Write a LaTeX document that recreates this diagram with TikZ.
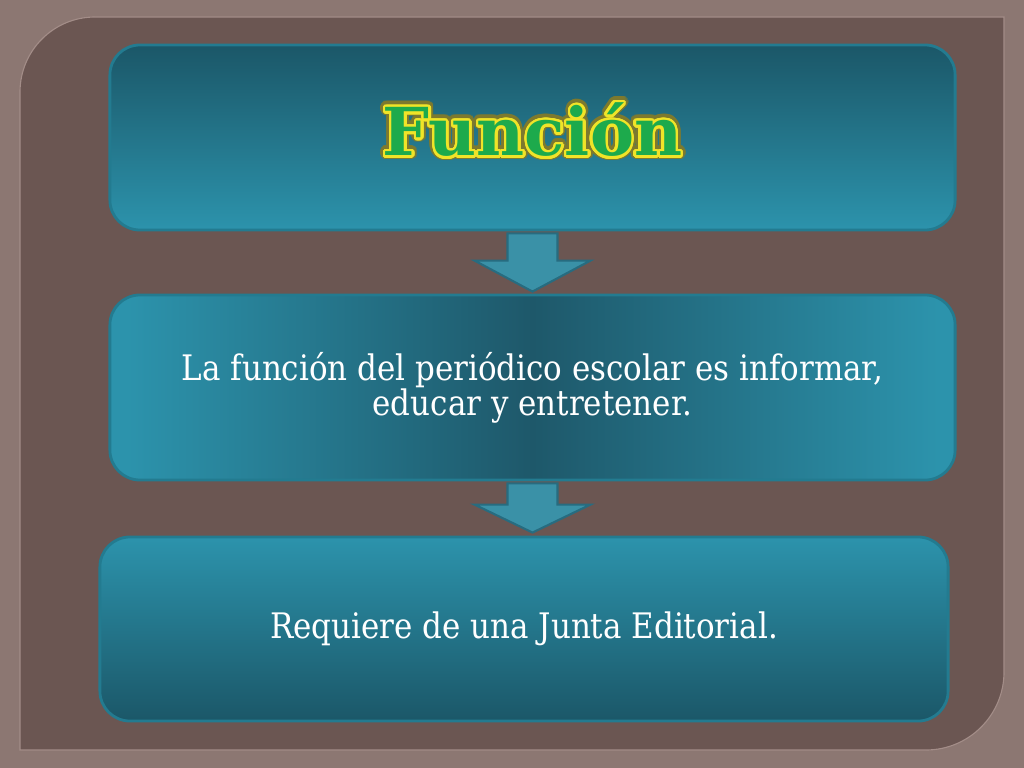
\documentclass[tikz,border=0pt]{standalone}
\usepackage{fontspec}
\usepackage{contour}
\usetikzlibrary{calc}

\newfontfamily\slab[FakeStretch=0.88]{DejaVu Serif}
\newfontfamily\slabhead{DejaVu Serif}

\definecolor{frameout}{HTML}{8C7772}
\definecolor{framein}{HTML}{6B5652}
\definecolor{frameedge}{HTML}{A38D88}
\definecolor{tealdark}{HTML}{1B5768}
\definecolor{tealdeep}{HTML}{1E586A}
\definecolor{teallight}{HTML}{2C93AC}
\definecolor{tealedge}{HTML}{237B90}
\definecolor{arrowfill}{HTML}{3A91A7}
\definecolor{arrowedge}{HTML}{276C80}
\definecolor{titlegreen}{HTML}{1DAA4C}
\definecolor{titleyellow}{HTML}{F0E428}
\definecolor{titleglow}{HTML}{7E7A2E}

% the path covers 25bp..75bp of the shading
\pgfdeclarehorizontalshading{midband}{100bp}{color(0bp)=(teallight); color(26bp)=(teallight); color(50bp)=(tealdeep); color(74bp)=(teallight); color(100bp)=(teallight)}
\contournumber{32}

\tikzset{
  stepbox/.style={rounded corners=0.75cm, draw=tealedge, line width=2pt,
    minimum width=21.125cm, minimum height=4.625cm, inner sep=0pt,
    text=white, align=center, font=\slab\fontsize{25pt}{25pt}\selectfont},
  blockarrow/.style={fill=arrowfill, draw=arrowedge, line width=1.5pt},
  titletext/.style={font=\slabhead\bfseries\fontsize{47pt}{47pt}\selectfont, inner sep=0pt}
}

\begin{document}
\begin{tikzpicture}[x=0.025cm, y=-0.025cm]
  \useasboundingbox (0,0) rectangle (1024,768);
  \fill[frameout] (0,0) rectangle (1024,768);

  % panel with two rounded corners
  \filldraw[fill=framein, draw=frameedge, line width=0.8pt]
    (20,750) -- (20,92) .. controls (20,50.6) and (53.6,17) .. (95,17)
    -- (1004,17) -- (1004,672) .. controls (1004,715) and (969,750) .. (926,750) -- cycle;

  % boxes
  \node[stepbox, top color=tealdark, bottom color=teallight] (box1) at (532.5,137.5) {};
  \node[stepbox, shading=midband] (box2) at (532.5,387.5)
    {La función del periódico escolar es informar,\\educar y entretener.};
  \node[stepbox, minimum width=21.2cm, minimum height=4.6cm,
    top color=teallight, bottom color=tealdark] (box3) at (524,629)
    {Requiere de una Junta Editorial.};

  % arrows
  \draw[blockarrow] ($(box1.south)+(-25,2)$) -- ($(box1.south)+(25,2)$)
    -- ($(box1.south |- box2.north)+(25,-33)$) -- ($(box1.south |- box2.north)+(58,-33)$)
    -- ($(box1.south |- box2.north)+(0,-2)$) -- ($(box1.south |- box2.north)+(-58,-33)$)
    -- ($(box1.south |- box2.north)+(-25,-33)$) -- cycle;
  \draw[blockarrow] ($(box2.south)+(-25,2)$) -- ($(box2.south)+(25,2)$)
    -- ($(box2.south |- box3.north)+(25,-31)$) -- ($(box2.south |- box3.north)+(58,-31)$)
    -- ($(box2.south |- box3.north)+(0,-3)$) -- ($(box2.south |- box3.north)+(-58,-31)$)
    -- ($(box2.south |- box3.north)+(-25,-31)$) -- cycle;

  % title
  \node[titletext, text=titleglow, opacity=0.75] (titleglow) at ([yshift=4.6pt]box1.center)
    {\contourlength{3.6pt}\contour{titleglow}{Función}};
  \node[titletext, text=titlegreen] (title) at (titleglow)
    {\contourlength{1.7pt}\contour{titleyellow}{Función}};
\end{tikzpicture}
\end{document}
